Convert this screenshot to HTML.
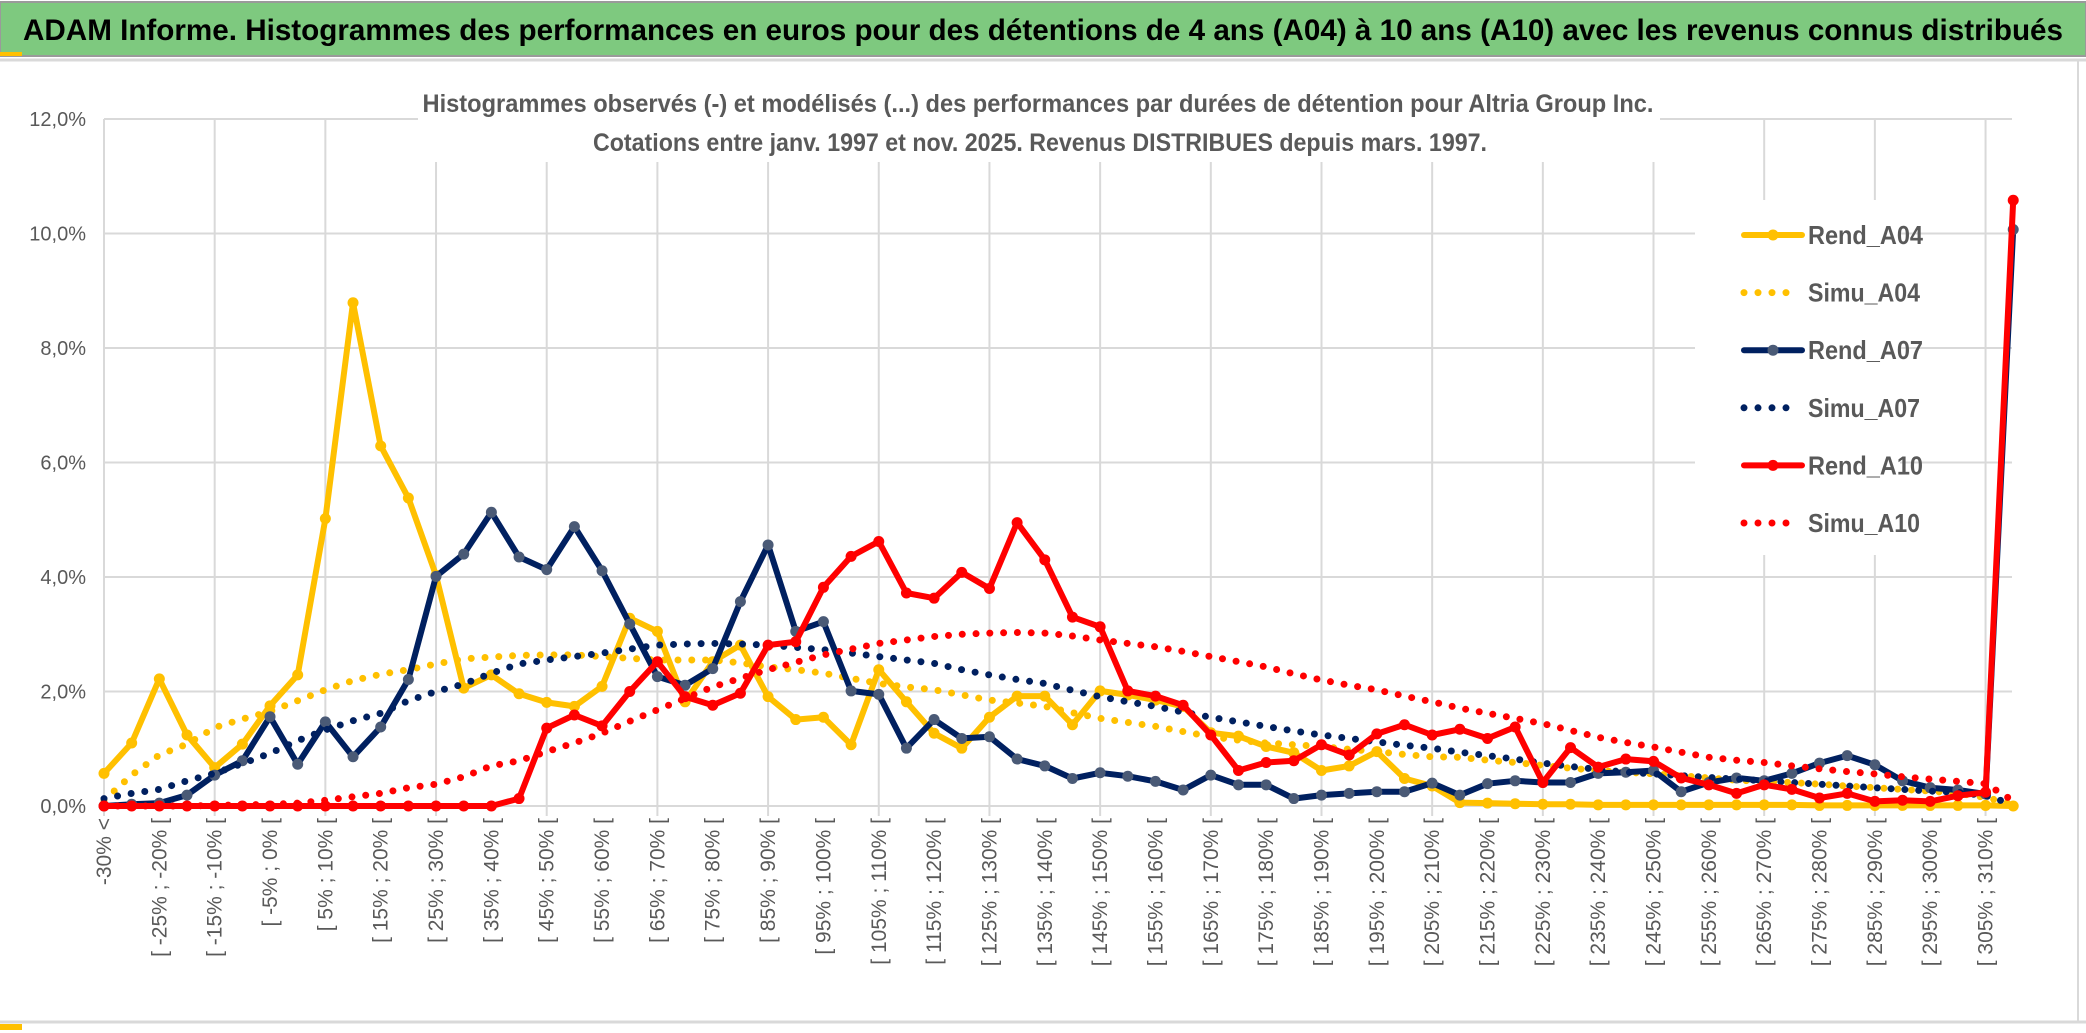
<!DOCTYPE html>
<html><head><meta charset="utf-8">
<style>
html,body{margin:0;padding:0;background:#fff;}
body{width:2086px;height:1033px;overflow:hidden;position:relative;}
svg{position:absolute;left:0;top:0;}
</style></head>
<body>
<svg id="chart" width="2086" height="1033" viewBox="0 0 2086 1033" xmlns="http://www.w3.org/2000/svg">
  <rect x="0" y="0" width="2086" height="1033" fill="#ffffff"/>
  <rect x="0" y="2" width="2086" height="54" fill="#7ec97f" stroke="#9a9a9a" stroke-width="2"/>
  <rect x="0" y="52" width="22" height="4" fill="#ffc000"/>
  <text x="1043" y="40" text-anchor="middle" font-family="'Liberation Sans Narrow','Liberation Sans',sans-serif" font-weight="bold" font-size="30" fill="#000" textLength="2040" lengthAdjust="spacingAndGlyphs">ADAM Informe. Histogrammes des performances en euros pour des détentions de 4 ans (A04) à 10 ans (A10) avec les revenus connus distribués</text>
  <line x1="0" y1="60" x2="2086" y2="60" stroke="#d9d9d9" stroke-width="3"/>
  <line x1="0" y1="1022" x2="2086" y2="1022" stroke="#d9d9d9" stroke-width="3"/>
  <line x1="2078" y1="60" x2="2078" y2="1022" stroke="#d9d9d9" stroke-width="2"/>
  <rect x="0" y="1024" width="22" height="6" fill="#ffc000"/>
  <g id="grid"></g>
  <rect x="418" y="78" width="1242" height="84" fill="#fff"/>
  <text x="1038" y="112" text-anchor="middle" font-family="'Liberation Sans Narrow','Liberation Sans',sans-serif" font-weight="bold" font-size="25" fill="#595959" textLength="1231" lengthAdjust="spacingAndGlyphs">Histogrammes observés (-) et modélisés (...) des performances par durées de détention pour Altria Group Inc.</text>
  <text x="1040" y="151" text-anchor="middle" font-family="'Liberation Sans Narrow','Liberation Sans',sans-serif" font-weight="bold" font-size="25" fill="#595959" textLength="894" lengthAdjust="spacingAndGlyphs">Cotations entre janv. 1997 et nov. 2025. Revenus DISTRIBUES depuis mars. 1997.</text>
  <g id="yaxis"></g>
  <g id="xaxis"></g>
  <rect x="1695" y="200" width="205" height="355" fill="#fff"/>
  <g id="series"></g>
  <g id="legend"></g>
</svg>
<script>
const rendA04 = [0.57,1.10,2.22,1.24,0.67,1.08,1.75,2.29,5.02,8.79, 6.29,5.38,4.03,2.06,2.29,1.96,1.81,1.74,2.09,3.28, 3.05,1.82,2.52,2.81,1.91,1.51,1.55,1.07,2.38,1.82, 1.27,1.01,1.55,1.92,1.92,1.42,2.01,1.94,1.85,1.74, 1.28,1.22,1.04,0.93,0.62,0.70,0.95,0.48,0.35,0.06, 0.05,0.04,0.03,0.03,0.02,0.02,0.02,0.02,0.02,0.02, 0.02,0.02,0.01,0.01,0.01,0.01,0.01,0.01,0.01,0.0];
const simuA04 = [0.10,0.54,0.89,1.08,1.37,1.52,1.65,1.84,2.03,2.19, 2.30,2.38,2.48,2.57,2.60,2.63,2.64,2.64,2.61,2.58, 2.55,2.55,2.55,2.50,2.43,2.38,2.32,2.23,2.14,2.08, 2.03,1.94,1.85,1.80,1.74,1.63,1.53,1.46,1.39,1.30, 1.21,1.15,1.10,1.07,1.04,0.99,0.95,0.90,0.86,0.85, 0.80,0.76,0.71,0.66,0.62,0.59,0.56,0.53,0.49,0.45, 0.43,0.41,0.38,0.35,0.32,0.29,0.26,0.22,0.15,0.03];
const rendA07 = [0.0,0.03,0.05,0.19,0.54,0.79,1.56,0.73,1.47,0.86, 1.38,2.21,4.01,4.40,5.13,4.35,4.13,4.88,4.11,3.18, 2.26,2.11,2.40,3.57,4.56,3.05,3.22,2.01,1.95,1.01, 1.51,1.18,1.21,0.82,0.70,0.48,0.58,0.52,0.43,0.28, 0.54,0.37,0.37,0.13,0.19,0.22,0.25,0.25,0.40,0.19, 0.39,0.44,0.41,0.41,0.57,0.59,0.62,0.25,0.41,0.49, 0.44,0.57,0.75,0.88,0.72,0.44,0.32,0.28,0.21,10.07];
const simuA07 = [0.13,0.22,0.29,0.44,0.57,0.74,0.92,1.14,1.33,1.49, 1.62,1.84,2.00,2.13,2.32,2.48,2.55,2.61,2.67,2.74, 2.81,2.83,2.84,2.83,2.81,2.77,2.73,2.67,2.61,2.55, 2.49,2.38,2.29,2.21,2.14,2.02,1.91,1.82,1.74,1.64, 1.55,1.47,1.39,1.31,1.24,1.18,1.12,1.06,1.01,0.94, 0.88,0.82,0.75,0.69,0.64,0.59,0.56,0.53,0.50,0.47, 0.44,0.41,0.38,0.35,0.32,0.29,0.26,0.24,0.18,0.03];
const rendA10 = [0,0,0,0,0,0,0,0,0,0, 0,0,0,0,0,0.13,1.36,1.59,1.40,2.00, 2.52,1.91,1.76,1.97,2.81,2.87,3.82,4.36,4.62,3.72, 3.63,4.08,3.80,4.95,4.30,3.30,3.13,2.01,1.92,1.76, 1.24,0.62,0.76,0.79,1.07,0.89,1.26,1.42,1.24,1.34, 1.18,1.38,0.41,1.02,0.68,0.82,0.78,0.49,0.37,0.22, 0.37,0.29,0.14,0.22,0.08,0.10,0.08,0.18,0.24,10.58];
const simuA10 = [0.0,0.0,0.0,0.0,0.01,0.02,0.03,0.05,0.10,0.16, 0.22,0.32,0.38,0.51,0.70,0.79,0.95,1.10,1.27,1.48, 1.68,1.88,2.08,2.23,2.38,2.51,2.64,2.74,2.84,2.90, 2.96,3.00,3.02,3.03,3.02,2.97,2.90,2.84,2.78,2.70, 2.61,2.52,2.43,2.31,2.20,2.11,2.03,1.92,1.82,1.71, 1.62,1.53,1.44,1.32,1.20,1.11,1.03,0.94,0.85,0.80, 0.76,0.70,0.65,0.60,0.56,0.51,0.47,0.43,0.39,0.09];
const yTicks = [0,2,4,6,8,10,12];
const yTickLabels = ["0,0%","2,0%","4,0%","6,0%","8,0%","10,0%","12,0%"];
const binLows = [];
for (let k = 1; k < 70; k++) binLows.push(-35 + 5 * k);
const categories = ["-30% <"].concat(binLows.map(lo => "[ " + lo + "% ; " + (lo + 5) + "% ["));

const NS = "http://www.w3.org/2000/svg";
const X0 = 104, DX = 27.67, Y0 = 806, PER = 57.25;
function xs(i){ return X0 + DX * i; }
function ys(v){ return Y0 - PER * v; }
function mk(tag, attrs, parent){ const e = document.createElementNS(NS, tag); for (const k in attrs) e.setAttribute(k, attrs[k]); parent.appendChild(e); return e; }

const grid = document.getElementById('grid');
yTicks.forEach(t => {
  const l = mk('line', {x1: X0, x2: 2012, y1: ys(t), y2: ys(t), stroke: '#d9d9d9', 'stroke-width': 2}, grid);
  
  
});
for (let i = 0; i < categories.length; i += 4) {
  const l = mk('line', {x1: xs(i), x2: xs(i), y1: ys(12), y2: Y0 + 10, stroke: '#d9d9d9', 'stroke-width': 2}, grid);
  
  
}
const yaxis = document.getElementById('yaxis');
yTicks.forEach((t, j) => {
  const tx = mk('text', {x: 86, y: ys(t) + 7, 'text-anchor': 'end', 'font-family': "'Liberation Sans Narrow','Liberation Sans',sans-serif", 'font-size': 20, fill: '#595959'}, yaxis);
  tx.textContent = yTickLabels[j];
  
  
});
const xaxis = document.getElementById('xaxis');
categories.forEach((c, i) => {
  if (i % 2 !== 0) return;
  const x = xs(i) + 7, y = 818;
  const tx = mk('text', {x: x, y: y, 'text-anchor': 'end', transform: 'rotate(-90 ' + x + ' ' + y + ')', 'font-family': "'Liberation Sans',sans-serif", 'font-size': 21, fill: '#595959'}, xaxis);
  tx.textContent = c;
  
  
});

const series = document.getElementById('series');
function pts(arr){ return arr.map((v, i) => xs(i).toFixed(1) + ',' + ys(v).toFixed(1)).join(' '); }
function solid(arr, color, marker, name){
  const g = mk('g', {}, series);
  
  
  mk('polyline', {points: pts(arr), fill: 'none', stroke: color, 'stroke-width': 6, 'stroke-linejoin': 'round', 'stroke-linecap': 'round'}, g);
  arr.forEach((v, i) => {
    const c = mk('circle', {cx: xs(i), cy: ys(v), r: 5.5, fill: marker}, g);
    
    
  });
}
function dotted(arr, color, name){
  const p = mk('polyline', {points: pts(arr), fill: 'none', stroke: color, 'stroke-width': 7, 'stroke-linecap': 'round', 'stroke-dasharray': '0 13.8'}, series);
  
  
}
solid(rendA04, '#ffc000', '#ffc000', 'rend-a04-line');
dotted(simuA04, '#ffc000', 'simu-a04-line');
solid(rendA07, '#002060', '#4a5a76', 'rend-a07-line');
dotted(simuA07, '#002060', 'simu-a07-line');
solid(rendA10, '#ff0000', '#ff0000', 'rend-a10-line');
dotted(simuA10, '#ff0000', 'simu-a10-line');

const legendItems = [
  ['Rend_A04', '#ffc000', 'solid', '#ffc000'],
  ['Simu_A04', '#ffc000', 'dot', null],
  ['Rend_A07', '#002060', 'solid', '#4a5a76'],
  ['Simu_A07', '#002060', 'dot', null],
  ['Rend_A10', '#ff0000', 'solid', '#ff0000'],
  ['Simu_A10', '#ff0000', 'dot', null]
];
const legend = document.getElementById('legend');
legendItems.forEach((it, j) => {
  const y = 235 + j * 57.6;
  const g = mk('g', {}, legend);
  
  
  if (it[2] === 'solid') {
    mk('line', {x1: 1744, x2: 1802, y1: y, y2: y, stroke: it[1], 'stroke-width': 6, 'stroke-linecap': 'round'}, g);
    mk('circle', {cx: 1773, cy: y, r: 5.5, fill: it[3]}, g);
  } else {
    mk('line', {x1: 1744, x2: 1795, y1: y, y2: y, stroke: it[1], 'stroke-width': 7, 'stroke-linecap': 'round', 'stroke-dasharray': '0 14'}, g);
  }
  const t = mk('text', {x: 1808, y: y + 9, 'font-family': "'Liberation Sans Narrow','Liberation Sans',sans-serif", 'font-weight': 'bold', 'font-size': 26, fill: '#595959', textLength: it[0].startsWith('Rend') ? 115 : 112, lengthAdjust: 'spacingAndGlyphs'}, g);
  t.textContent = it[0];
});
</script>
</body></html>
